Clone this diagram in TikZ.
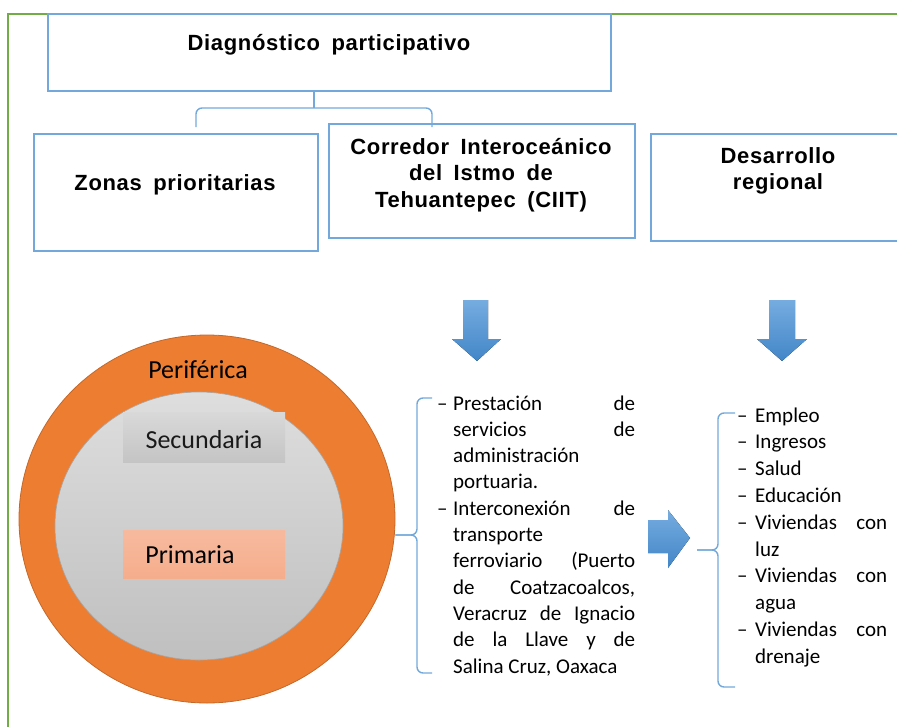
\documentclass[tikz,border=0pt]{standalone}
\usepackage{fontspec}
\setmainfont{Carlito}
\newfontfamily\boxfont[LetterSpace=3.0,WordSpace=1.7]{Liberation Sans}
\usetikzlibrary{shapes.geometric}
\definecolor{frameG}{RGB}{112,173,71}
\definecolor{boxB}{RGB}{115,168,218}
\definecolor{arrTop}{RGB}{118,172,224}
\definecolor{arrBot}{RGB}{66,134,200}
\definecolor{orangeF}{RGB}{237,125,49}
\definecolor{orangeD}{RGB}{196,104,42}
\definecolor{salmon}{RGB}{246,178,148}
\tikzset{
  box/.style={draw=boxB, line width=1.4pt, inner sep=0pt},
  boxtxt/.style={font=\boxfont\bfseries\fontsize{22}{26.3}\selectfont, inner sep=0pt, align=center},
  conn/.style={draw=boxB, line width=1.4pt, rounded corners=6pt},
  bigarrow/.style={top color=arrTop, bottom color=arrBot, draw=none},
  lbl/.style={font=\fontsize{26}{30}\selectfont, inner sep=0pt},
  listtxt/.style={inner sep=0pt, anchor=base west}
}
\begin{document}
\begin{tikzpicture}[x=1pt,y=-1pt]
\useasboundingbox (0,0) rectangle (897,726);
\clip (0,0) rectangle (897,726);
% green frame
\draw[frameG, line width=1.4pt] (8,730) -- (8,14) -- (900,14);
% top boxes
\node[box, minimum width=563pt, minimum height=77pt, fill=white] (diag) at (329.5,52.5) {};
\node[boxtxt] (diagT) at (329,45) {Diagnóstico participativo};
\node[box, minimum width=284pt, minimum height=117pt] (zonas) at (176,192.5) {};
\node[boxtxt] (zonasT) at (175,185) {Zonas prioritarias};
\node[box, minimum width=306pt, minimum height=114pt] (ciit) at (482,181) {};
\node[boxtxt] (ciitT) at (481,175) {Corredor Interoceánico\\del Istmo de\\Tehuantepec (CIIT)};
\node[box, minimum width=260pt, minimum height=107pt] (desa) at (781,187.5) {};
\node[boxtxt] (desaT) at (778,171) {Desarrollo\\regional};
% bracket connector
\coordinate (bmid) at (314,108);
\coordinate (bl) at (196,127);
\coordinate (br) at (432,127);
\draw[conn] (bmid |- diag.south) -- (bmid);
\draw[conn] (bl) -- (bl |- bmid) -- (br |- bmid) -- (br);
% down arrows
\fill[bigarrow] (463,300) -- (488,300) -- (488,339) -- (501,339) -- (477,361) -- (452,339) -- (463,339) -- cycle;
\fill[bigarrow] (769,300) -- (795,300) -- (795,339) -- (807,339) -- (782,361) -- (757,339) -- (769,339) -- cycle;
% right arrow
\fill[bigarrow] (648,520) -- (668,520) -- (668,510) -- (690,538) -- (668,568) -- (668,553) -- (648,553) -- cycle;
% circles
\node[ellipse, minimum width=376pt, minimum height=368pt, fill=orangeF, draw=orangeD, line width=0.8pt] (outer) at (207,519) {};
\node[ellipse, minimum width=288pt, minimum height=268pt, top color=black!13, bottom color=black!25, draw=black!35, line width=0.6pt] (inner) at (199,526) {};
\node[lbl] (peri) at (198,370) {Periférica};
\node[minimum width=162pt, minimum height=50pt, top color=black!15, bottom color=black!23, inner sep=0pt] (secR) at (204,437) {};
\node[lbl, text=black!90] (secT) at (204,440) {Secundaria};
\node[minimum width=162pt, minimum height=48pt, top color=salmon!90!white, bottom color=salmon!92!orangeF, inner sep=0pt] (priR) at (204,554) {};
\node[lbl] (priT) at (190,555) {Primaria};
% left brace
\coordinate (lbtip) at (417,535);
\coordinate (lbtop) at (432,398);
\coordinate (lbbot) at (432,673);
\draw[conn] (lbtop) -- (lbtip |- lbtop) -- (lbtip) -- (outer.east |- lbtip);
\draw[conn] (lbbot) -- (lbtip |- lbbot) -- (lbtip) -- (outer.east |- lbtip);
% right brace
\coordinate (rbtip) at (718,550);
\coordinate (rbend) at (697,550);
\coordinate (rbtop) at (735,413);
\coordinate (rbbot) at (735,687);
\draw[conn] (rbtop) -- (rbtip |- rbtop) -- (rbtip) -- (rbend);
\draw[conn] (rbbot) -- (rbtip |- rbbot) -- (rbtip) -- (rbend);
% lists
\node[listtxt] (leftlist) at (437,410) {\parbox[t]{198pt}{\fontsize{21}{26.3}\selectfont\parindent=0pt
\hangindent=16pt\hangafter=1\makebox[16pt][l]{–}Prestación de\linebreak servicios de\linebreak administración\\portuaria.\par
\hangindent=16pt\hangafter=1\makebox[16pt][l]{–}Interconexión de\linebreak transporte\\ferroviario (Puerto\linebreak de Coatzacoalcos,\linebreak Veracruz de Ignacio\linebreak de la Llave y de\linebreak Salina Cruz, Oaxaca\par}};
\node[listtxt] (rightlist) at (737,422) {\parbox[t]{150pt}{\fontsize{21}{26.8}\selectfont\parindent=0pt
\hangindent=18pt\hangafter=1\makebox[18pt][l]{–}Empleo\par
\hangindent=18pt\hangafter=1\makebox[18pt][l]{–}Ingresos\par
\hangindent=18pt\hangafter=1\makebox[18pt][l]{–}Salud\par
\hangindent=18pt\hangafter=1\makebox[18pt][l]{–}Educación\par
\hangindent=18pt\hangafter=1\makebox[18pt][l]{–}Viviendas con\linebreak luz\par
\hangindent=18pt\hangafter=1\makebox[18pt][l]{–}Viviendas con\linebreak agua\par
\hangindent=18pt\hangafter=1\makebox[18pt][l]{–}Viviendas con\linebreak drenaje\par}};
\end{tikzpicture}
\end{document}
